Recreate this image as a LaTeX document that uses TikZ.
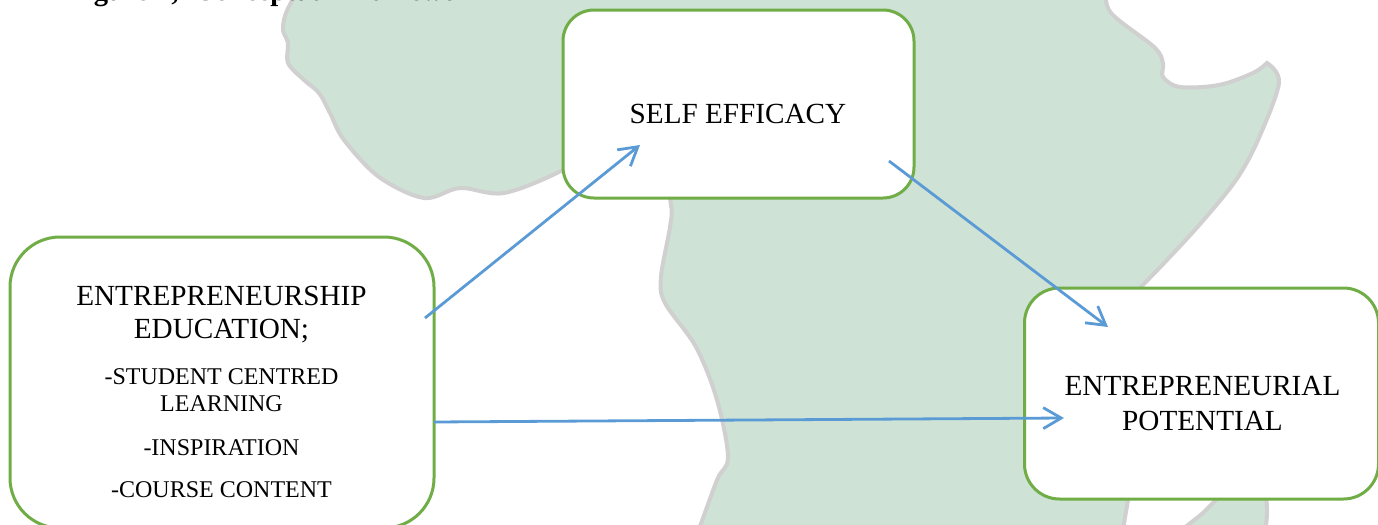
\documentclass[tikz,border=0pt]{standalone}
\usepackage{fontspec}
\setmainfont{Liberation Serif}
\usetikzlibrary{arrows.meta}
\definecolor{boxgreen}{HTML}{70AD47}
\definecolor{flowblue}{HTML}{5B9BD5}
\definecolor{mapland}{HTML}{CEE2D5}
\definecolor{mapedge}{HTML}{D0D0D0}

\begin{document}
\begin{tikzpicture}[x=0.5pt, y=-0.5pt,
    varbox/.style={draw=boxgreen, line width=1.5pt, fill=white, rectangle, outer sep=0pt},
    bigtext/.style={anchor=base, inner sep=0pt, font=\fontsize{14.6}{17}\selectfont},
    smalltext/.style={anchor=base, inner sep=0pt, font=\fontsize{12}{14}\selectfont},
    flow/.style={draw=flowblue, line width=1.4pt, -{Straight Barb[length=9pt, width=10.5pt]}}]
      \useasboundingbox (0,0) rectangle (1378,525);
      \clip (0,0) rectangle (1378,525);

      % map behind the boxes
      \filldraw[fill=mapland, draw=mapedge, line width=2pt] plot[smooth, tension=0.55] coordinates
      {(298,-10) (286,13) (283,30) (288,43) (288,63) (304,80) (319,93) (330,113) (344,140) (379,177)
        (424,198) (460,188) (504,193) (563,170) (610,140) (660,170) (671,205) (670,227)
        (661,277) (665,303) (696,347) (717,400) (728,457) (717,480) (697,535)}
      -- (1122,535) -- plot[smooth, tension=0.55] coordinates
      {(1128,500) (1115,400) (1120,310) (1141,287) (1167,260) (1201,223) (1236,180) (1258,140) (1279,83) (1267,63)}
      -- plot[smooth, tension=0.55] coordinates
      {(1267,63) (1253,73) (1219,85) (1180,87) (1163,77) (1163,63) (1154,47) (1111,13) (1106,-10)}
      -- cycle;
      \filldraw[fill=mapland, draw=mapedge, line width=2pt] plot[smooth, tension=0.55] coordinates
      {(1175,535) (1203,513) (1213,503) (1240,480) (1263,490) (1267,510) (1265,535)} -- cycle;

      \node[anchor=base, inner sep=0pt, font=\bfseries\fontsize{14.3}{17}\selectfont] (figtitle)
      at (277,0.5) {Figure 1;\ \ Conceptual Framework};

      \node[varbox, minimum width=175.5pt, minimum height=94pt, rounded corners=15.5pt] (selfbox) at (738.5,104) {};
      \node[varbox, minimum width=212pt, minimum height=145.5pt, rounded corners=25pt] (edubox) at (222,382.5) {};
      \node[varbox, minimum width=177pt, minimum height=105.5pt, rounded corners=17.5pt] (potbox) at (1201.5,393.5) {};

      \node[bigtext] (selftext) at (738,123) {SELF EFFICACY};
      \node[bigtext] (eduhead) at (221.5,305) {ENTREPRENEURSHIP};
      \node[bigtext] (eduname) at (221.5,338) {EDUCATION;};
      \node[smalltext] (stulist) at (221.5,384) {-STUDENT CENTRED};
      \node[smalltext] (learnlist) at (221.5,411) {LEARNING};
      \node[smalltext] (insplist) at (221.5,455) {-INSPIRATION};
      \node[smalltext] (courselist) at (221.5,497) {-COURSE CONTENT};
      \node[bigtext] (pothead) at (1202.5,395) {ENTREPRENEURIAL};
      \node[bigtext] (potname) at (1202.5,430) {POTENTIAL};

      \coordinate (eduup) at (425,318);
      \coordinate (selfin) at (640,145);
      \coordinate (selfout) at (889,161);
      \coordinate (potup) at (1108,327);
      \coordinate (eduout) at (434,422);
      \coordinate (potin) at (1064,418);

      \draw[flow] (eduup) -- (selfin);
      \draw[flow] (selfout) -- (potup);
      \draw[flow] (eduout) -- (potin);
    \end{tikzpicture}
\end{document}
